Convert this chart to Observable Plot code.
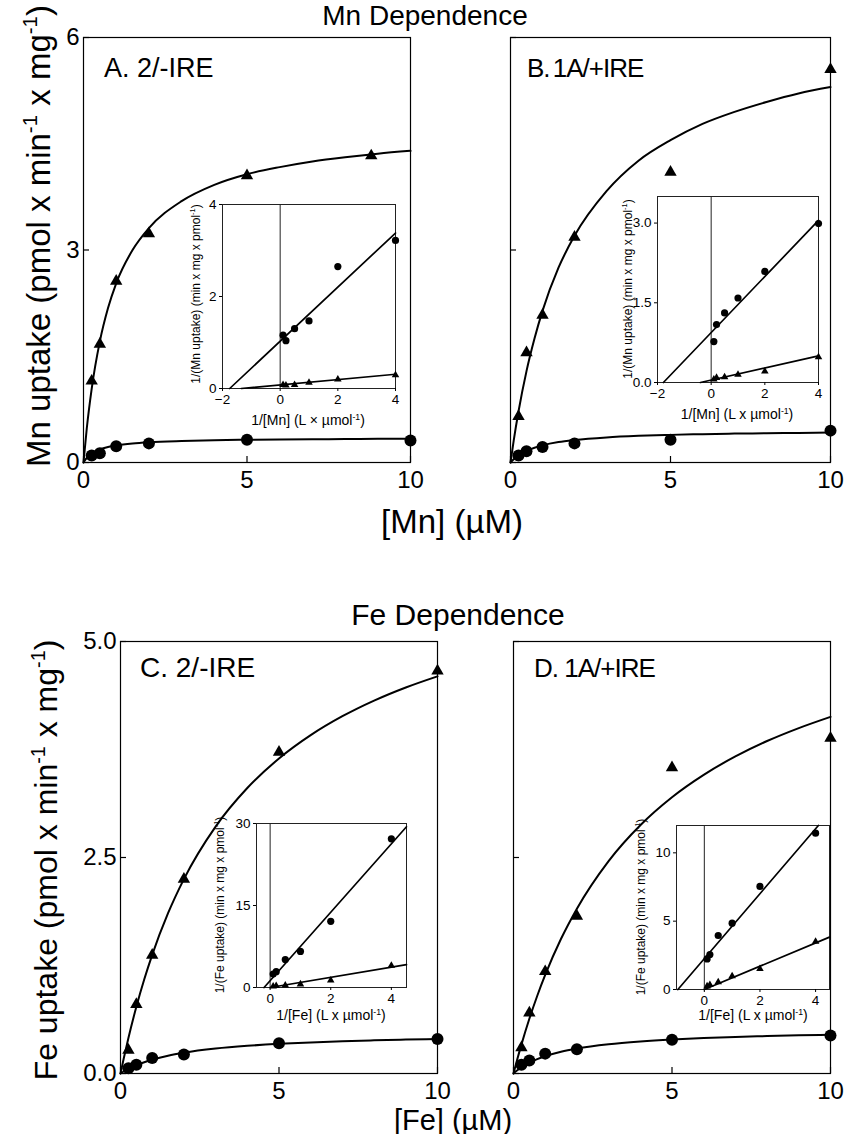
<!DOCTYPE html>
<html><head><meta charset="utf-8">
<script src="https://cdn.jsdelivr.net/npm/d3@7"></script>
<script src="https://cdn.jsdelivr.net/npm/@observablehq/plot@0.6"></script>
<style>
body{margin:0;background:#fff;}
#root{position:relative;width:847px;height:1134px;overflow:hidden;font-family:"Liberation Sans",Arial,sans-serif;color:#000;background:#fff;}
#root > svg{position:absolute;}
.t{position:absolute;white-space:nowrap;line-height:1;transform:translate(-50%,-50%);}
.l{position:absolute;white-space:nowrap;line-height:1;transform:translateY(-50%);}
.r{transform:translate(-50%,-50%) rotate(-90deg);}
sup{font-size:0.62em;vertical-align:0.62em;line-height:0;}
</style></head><body><div id="root"></div>
<script>
// ---------- data: main panels (concentration in µM, uptake in pmol/min/mg)
const mnConc = [0.25, 0.5, 1, 2, 5, 10];
const mnA_triConc = [0.25, 0.5, 1, 2, 5, 8.8];
const mnA_tri = [1.15, 1.67, 2.56, 3.23, 4.05, 4.33];
const mnA_cir = [0.10, 0.13, 0.23, 0.27, 0.32, 0.31];
const mnB_tri = [0.65, 1.55, 2.08, 3.18, 4.10, 5.55];
const mnB_cir = [0.10, 0.16, 0.22, 0.27, 0.32, 0.45];
const feConc = [0.25, 0.5, 1, 2, 5, 10];
const feC_tri = [0.27, 0.80, 1.37, 2.25, 3.72, 4.66];
const feC_cir = [0.06, 0.10, 0.18, 0.22, 0.35, 0.40];
const feD_tri = [0.30, 0.70, 1.18, 1.82, 3.54, 3.88];
const feD_cir = [0.10, 0.15, 0.23, 0.28, 0.39, 0.44];
// fitted curves
const curveX = [0, 0.1, 0.25, 0.5, 0.75, 1, 1.5, 2, 3, 4, 5, 6, 7, 8, 9, 10];
const mnA_triFit = [0, 0.48, 1.04, 1.71, 2.18, 2.53, 3.0, 3.31, 3.69, 3.92, 4.07, 4.17, 4.25, 4.31, 4.36, 4.40];
const mnA_cirFit = [0, 0.064, 0.125, 0.184, 0.219, 0.241, 0.269, 0.286, 0.304, 0.315, 0.321, 0.326, 0.329, 0.331, 0.334, 0.335];
const mnB_triFit = [0, 0.31, 0.72, 1.29, 1.75, 2.14, 2.75, 3.20, 3.83, 4.26, 4.55, 4.78, 4.95, 5.09, 5.21, 5.30];
const mnB_cirFit = [0, 0.046, 0.10, 0.164, 0.209, 0.242, 0.288, 0.317, 0.354, 0.376, 0.39, 0.40, 0.408, 0.413, 0.418, 0.422];
const feC_triFit = [0, 0.171, 0.411, 0.772, 1.09, 1.373, 1.855, 2.25, 2.858, 3.304, 3.646, 3.916, 4.135, 4.316, 4.468, 4.597];
const feC_cirFit = [0, 0.023, 0.053, 0.096, 0.131, 0.16, 0.206, 0.24, 0.288, 0.32, 0.343, 0.36, 0.373, 0.384, 0.393, 0.40];
const feD_triFit = [0, 0.139, 0.334, 0.633, 0.9, 1.141, 1.559, 1.908, 2.459, 2.874, 3.198, 3.457, 3.670, 3.848, 3.998, 4.128];
const feD_cirFit = [0, 0.031, 0.07, 0.124, 0.166, 0.2, 0.252, 0.289, 0.339, 0.371, 0.394, 0.411, 0.423, 0.433, 0.442, 0.448];
// ---------- data: Lineweaver-Burk insets (1/[S], 1/v)
const invConc = [0.1, 0.2, 0.5, 1, 2, 4];
const lbA_cir = [1.16, 1.04, 1.30, 1.47, 2.65, 3.22];
const lbA_tri = [0.08, 0.07, 0.08, 0.13, 0.20, 0.29];
const lbA_cirLineX = [-1.75, 4], lbA_cirLineY = [0, 3.38];
const lbA_triLineX = [-1.35, 4], lbA_triLineY = [0, 0.31];
const lbB_cir = [0.77, 1.09, 1.31, 1.59, 2.09, 2.99];
const lbB_tri = [0.06, 0.09, 0.10, 0.15, 0.21, 0.48];
const lbB_cirLineX = [-1.78, 4], lbB_cirLineY = [0, 3.05];
const lbB_triLineX = [-0.4, 4], lbB_triLineY = [0, 0.50];
const lbC_cir = [2.45, 2.9, 5.1, 6.6, 12.1, 27.2];
const lbC_tri = [0.2, 0.3, 0.4, 0.6, 1.3, 4.0];
const lbC_cirLineX = [-0.2, 4.5], lbC_cirLineY = [0, 29.4];
const lbC_triLineX = [0, 4.5], lbC_triLineY = [0, 4.2];
const lbD_cir = [2.24, 2.56, 3.95, 4.85, 7.54, 11.44];
const lbD_tri = [0.24, 0.34, 0.54, 0.98, 1.51, 3.51];
const lbD_cirLineX = [-0.95, 4.1], lbD_cirLineY = [0, 12];
const lbD_triLineX = [0, 4.5], lbD_triLineY = [0, 3.83];
// ---------- ticks
const mainXTicks = [0, 5, 10];
const mnYTicks = [0, 3, 6];
const feYTicks = [0, 2.5, 5];
const lbAXTicks = [-2, 0, 2, 4], lbAYTicks = [0, 2, 4];
const lbBXTicks = [-2, 0, 2, 4], lbBYTicks = [0, 1.5, 3];
const lbCXTicks = [0, 2, 4], lbCYTicks = [0, 15, 30];
const lbDXTicks = [0, 2, 4], lbDYTicks = [0, 5, 10];

const zip = (xs, ys) => xs.map((x, i) => ({x, y: ys[i]}));
const root = document.getElementById("root");
const FONT = "Liberation Sans, Arial, sans-serif";
const fInt = d3.format("d"), f1 = d3.format(".1f");

function place(svg, left, top) {
  svg.style.left = left + "px"; svg.style.top = top + "px";
  root.appendChild(svg);
}

function mainPanel(o) {
  const mr = 12, mb = 50;
  const svg = Plot.plot({
    width: o.fl + o.fw + mr, height: o.ft + o.fh + mb,
    marginLeft: o.fl, marginTop: o.ft, marginRight: mr, marginBottom: mb,
    style: {background: "transparent", overflow: "visible", fontFamily: FONT, color: "#000"},
    x: {domain: [0, 10]}, y: {domain: o.yDomain},
    marks: [
      Plot.frame({stroke: "#000", strokeWidth: 1.2}),
      Plot.axisX({ticks: mainXTicks, tickSize: -6, tickPadding: 14, fontSize: 24, label: null, strokeWidth: 1.2, tickFormat: fInt}),
      Plot.axisY({ticks: o.yTicks, tickSize: -6, tickPadding: 10, fontSize: 24, label: null, strokeWidth: 1.2,
        tickFormat: o.showY ? o.yFmt : () => ""}),
      Plot.line(zip(curveX, o.triFit), {x: "x", y: "y", curve: "monotone-x", strokeWidth: 2, stroke: "#000"}),
      Plot.line(zip(curveX, o.cirFit), {x: "x", y: "y", curve: "monotone-x", strokeWidth: 2, stroke: "#000"}),
      Plot.dot(zip(o.triX, o.tri), {x: "x", y: "y", symbol: "triangle", r: 4.6, fill: "#000", stroke: null}),
      Plot.dot(zip(o.cirX, o.cir), {x: "x", y: "y", symbol: "circle", r: 6, fill: "#000", stroke: null})
    ]
  });
  place(svg, o.left - o.fl, o.top - o.ft);
}

function insetPanel(o) {
  const ml = 36, mt = 8, mr = 6, mb = 26;
  const svg = Plot.plot({
    width: ml + o.fw + mr, height: mt + o.fh + mb,
    marginLeft: ml, marginTop: mt, marginRight: mr, marginBottom: mb,
    style: {background: "transparent", overflow: "visible", fontFamily: FONT, color: "#000"},
    x: {domain: o.xDomain}, y: {domain: o.yDomain},
    marks: [
      Plot.frame({fill: "#fff", stroke: "#222", strokeWidth: 1}),
      Plot.ruleX([0], {stroke: "#222", strokeWidth: 1}),
      Plot.axisX({ticks: o.xTicks, tickSize: 3, tickPadding: 3, fontSize: 13.5, label: null, tickFormat: fInt}),
      Plot.axisY({ticks: o.yTicks, tickSize: 3, tickPadding: 3, fontSize: 13.5, label: null, tickFormat: o.yFmt}),
      Plot.line(zip(o.cirLineX, o.cirLineY), {x: "x", y: "y", strokeWidth: 1.7, stroke: "#000"}),
      Plot.line(zip(o.triLineX, o.triLineY), {x: "x", y: "y", strokeWidth: 1.7, stroke: "#000"}),
      Plot.dot(zip(invConc, o.tri), {x: "x", y: "y", symbol: "triangle", r: 2.8, fill: "#000", stroke: null}),
      Plot.dot(zip(invConc, o.cir), {x: "x", y: "y", symbol: "circle", r: 3.6, fill: "#000", stroke: null})
    ]
  });
  place(svg, o.left - ml, o.top - mt);
}

mainPanel({left: 83, top: 37, fw: 327, fh: 425, fl: 83, ft: 37, yDomain: [0, 6], yTicks: mnYTicks, yFmt: fInt, showY: true,
  triX: mnA_triConc, tri: mnA_tri, cirX: mnConc, cir: mnA_cir, triFit: mnA_triFit, cirFit: mnA_cirFit});
mainPanel({left: 510, top: 37, fw: 320, fh: 425, fl: 10, ft: 37, yDomain: [0, 6], yTicks: mnYTicks, showY: false,
  triX: mnConc, tri: mnB_tri, cirX: mnConc, cir: mnB_cir, triFit: mnB_triFit, cirFit: mnB_cirFit});
mainPanel({left: 120, top: 641, fw: 317, fh: 432, fl: 120, ft: 41, yDomain: [0, 5], yTicks: feYTicks, yFmt: f1, showY: true,
  triX: feConc, tri: feC_tri, cirX: feConc, cir: feC_cir, triFit: feC_triFit, cirFit: feC_cirFit});
mainPanel({left: 513, top: 641, fw: 317, fh: 432, fl: 10, ft: 41, yDomain: [0, 5], yTicks: feYTicks, showY: false,
  triX: feConc, tri: feD_tri, cirX: feConc, cir: feD_cir, triFit: feD_triFit, cirFit: feD_cirFit});

insetPanel({left: 222, top: 204, fw: 173, fh: 184, xDomain: [-2, 4], yDomain: [0, 4], xTicks: lbAXTicks, yTicks: lbAYTicks, yFmt: fInt,
  cir: lbA_cir, tri: lbA_tri, cirLineX: lbA_cirLineX, cirLineY: lbA_cirLineY, triLineX: lbA_triLineX, triLineY: lbA_triLineY});
insetPanel({left: 657, top: 196, fw: 161, fh: 186, xDomain: [-2, 4], yDomain: [0, 3.5], xTicks: lbBXTicks, yTicks: lbBYTicks, yFmt: f1,
  cir: lbB_cir, tri: lbB_tri, cirLineX: lbB_cirLineX, cirLineY: lbB_cirLineY, triLineX: lbB_triLineX, triLineY: lbB_triLineY});
insetPanel({left: 256, top: 823, fw: 150, fh: 164, xDomain: [-0.45, 4.5], yDomain: [0, 30], xTicks: lbCXTicks, yTicks: lbCYTicks, yFmt: fInt,
  cir: lbC_cir, tri: lbC_tri, cirLineX: lbC_cirLineX, cirLineY: lbC_cirLineY, triLineX: lbC_triLineX, triLineY: lbC_triLineY});
insetPanel({left: 676, top: 825, fw: 153, fh: 164, xDomain: [-1, 4.5], yDomain: [0, 12], xTicks: lbDXTicks, yTicks: lbDYTicks, yFmt: fInt,
  cir: lbD_cir, tri: lbD_tri, cirLineX: lbD_cirLineX, cirLineY: lbD_cirLineY, triLineX: lbD_triLineX, triLineY: lbD_triLineY});

// ---------- text
function text(html, x, y, size, cls, extra) {
  const d = document.createElement("div");
  d.className = cls;
  d.innerHTML = html;
  d.style.left = x + "px"; d.style.top = y + "px"; d.style.fontSize = size + "px";
  if (extra) Object.assign(d.style, extra);
  root.appendChild(d);
}
text("Mn Dependence", 425, 16, 28, "t");
text("Fe Dependence", 458, 615, 30, "t");
text("A. 2/-IRE", 104, 68, 27, "l");
text("B. 1A/+IRE", 527, 68, 26, "l", {letterSpacing: "-1px", wordSpacing: "-3px"});
text("C. 2/-IRE", 140, 668, 28, "l");
text("D. 1A/+IRE", 534, 668, 26, "l", {letterSpacing: "-1px"});
text("[Mn] (µM)", 452, 521, 33, "t");
text("[Fe] (µM)", 453, 1120, 29, "t");
text("Mn uptake (pmol x min<sup>-1</sup> x mg<sup>-1</sup>)", 38, 236, 33, "t r");
text("Fe uptake (pmol x min<sup>-1</sup> x mg<sup>-1</sup>)", 46, 860, 32, "t r");
text("1/(Mn uptake) (min x mg x pmol<sup>-1</sup>)", 196, 294, 12, "t r");
text("1/[Mn] (L × µmol<sup>-1</sup>)", 308, 420, 14, "t");
text("1/(Mn uptake) (min x mg x pmol<sup>-1</sup>)", 628, 289, 12, "t r");
text("1/[Mn] (L x µmol<sup>-1</sup>)", 737, 414, 14, "t");
text("1/(Fe uptake) (min x mg x pmol<sup>-1</sup>)", 220, 905, 12, "t r");
text("1/[Fe] (L x µmol<sup>-1</sup>)", 331, 1015, 14, "t");
text("1/(Fe uptake) (min x mg x pmol<sup>-1</sup>)", 641, 907, 12, "t r");
text("1/[Fe] (L x µmol<sup>-1</sup>)", 753, 1015, 14, "t");
</script></body></html>
